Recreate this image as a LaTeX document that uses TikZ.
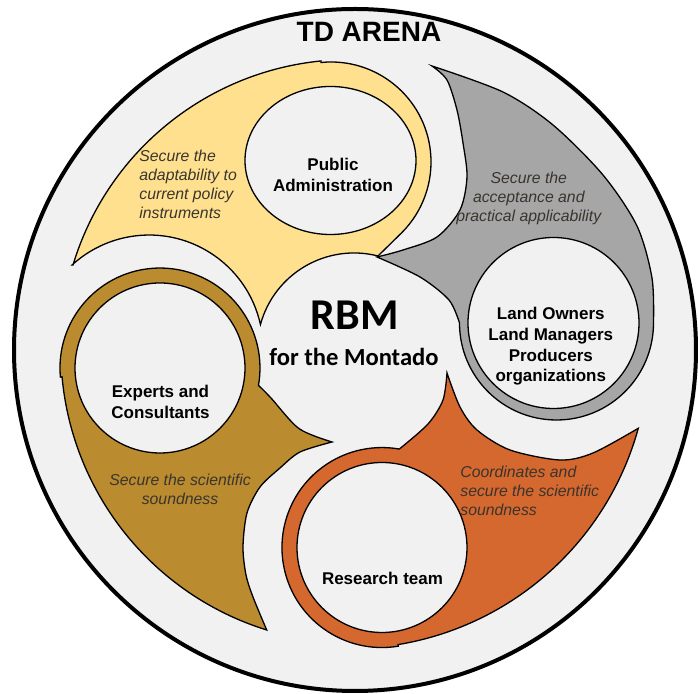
\documentclass[tikz,border=0pt]{standalone}
\usepackage{fontspec}
\setmainfont{Liberation Sans}
\newfontfamily\calibri{Carlito}
\usetikzlibrary{calc}

\definecolor{arena}{RGB}{241,241,241}
\definecolor{paYellow}{RGB}{254,224,142}
\definecolor{loGray}{RGB}{166,166,166}
\definecolor{rtOrange}{RGB}{212,104,46}
\definecolor{ecBrown}{RGB}{186,139,47}
\definecolor{roleText}{RGB}{58,52,46}

\tikzset{
  blob/.style={draw=black, line width=0.65pt},
  actor/.style={font=\bfseries\fontsize{8.5}{10.4}\selectfont, align=center, inner sep=0pt},
  role/.style={font=\itshape\fontsize{7.9}{9.5}\selectfont, text=roleText, inner sep=0pt},
}

\begin{document}
\begin{tikzpicture}[x=0.5pt,y=-0.5pt]
\useasboundingbox (0,0) rectangle (698,694);
% arena
\filldraw[fill=arena, line width=2pt] (355,350) circle[radius=341];

% public administration
\filldraw[blob, fill=paYellow] (73,265) arc[start angle=196.8, end angle=264.3, radius=289]
  -- (321.1,62.5) arc[start angle=264.3, end angle=405, radius=100]
  -- (378,256) arc[start angle=284.3, end angle=195.2, radius=97]
  arc[start angle=-12.4, end angle=-132.5, radius=114] -- cycle;
% land owners
\filldraw[blob, fill=loGray] plot[smooth] coordinates {(432,66) (503,92) (553,125) (603,175) (637,226) (652,278) (653.5,323)}
  arc[start angle=0, end angle=180, radius=97]
  -- plot[smooth] coordinates {(459.5,323) (449,300) (420,277) (377,257)}
  -- plot[smooth] coordinates {(377,257) (403,250) (437,237) (460,210) (467,177) (463,143) (457,110) (447,80) (432,66)} -- cycle;
% research team
\filldraw[blob, fill=rtOrange] (638.3,428.3) arc[start angle=15.4, end angle=80.6, radius=300]
  -- (398.3,646.2) arc[start angle=80.6, end angle=280, radius=100]
  -- plot[smooth] coordinates {(399.4,449) (428,424) (443,400) (447,373)}
  -- plot[smooth] coordinates {(447,373) (460,407) (477,430) (510,450) (560,460) (593,453) (638.3,428.3)} -- cycle;
% experts
\filldraw[blob, fill=ecBrown] (266.7,630) arc[start angle=107.3, end angle=174.8, radius=293]
  -- (60.4,377.1) arc[start angle=174.8, end angle=370, radius=100]
  -- plot[smooth] coordinates {(258.5,385.4) (271,398) (299,428.6) (332,442)}
  -- plot[smooth] coordinates {(332,442) (300,452) (280,468) (260,487) (247,513) (243,547) (246,575) (253,597) (266.7,630)} -- cycle;

% actor circles
\filldraw[blob, fill=arena] (330.5,160.5) ellipse[x radius=85.5, y radius=74];
\filldraw[blob, fill=arena] (553.5,323) circle[radius=85.5];
\filldraw[blob, fill=arena] (382,547.5) circle[radius=85];
\filldraw[blob, fill=arena] (160,368) circle[radius=85];

% texts
\node[font=\bfseries\fontsize{14}{16}\selectfont, inner sep=0pt, anchor=base] (title) at (369,42) {TD ARENA};
\node[font=\calibri\bfseries\fontsize{22}{24}\selectfont, inner sep=0pt, anchor=base] (rbm) at (354.5,329.3) {RBM};
\node[font=\calibri\bfseries\fontsize{12.3}{14}\selectfont, inner sep=0pt, anchor=base] (montado) at (354,366) {for the Montado};

\node[actor, anchor=north] (pa) at (333,157.7) {Public\\Administration};
\node[actor, anchor=north] (lo) at (550.8,306.7) {Land Owners\\Land Managers\\Producers\\organizations};
\node[actor, anchor=north] (ec) at (160.5,384.5) {Experts and\\Consultants};
\node[actor, anchor=base] (rt) at (382.5,584.3) {Research team};

\node[role, anchor=north west, align=left] (paRole) at (139,150) {Secure the\\adaptability to\\current policy\\instruments};
\node[role, anchor=north, align=center] (loRole) at (528.8,171.7) {Secure the\\acceptance and\\practical applicability};
\node[role, anchor=north, align=center] (ecRole) at (180,473.3) {Secure the scientific\\soundness};
\node[role, anchor=north west, align=left] (rtRole) at (460,466) {Coordinates and\\secure the scientific\\soundness};
\end{tikzpicture}
\end{document}
